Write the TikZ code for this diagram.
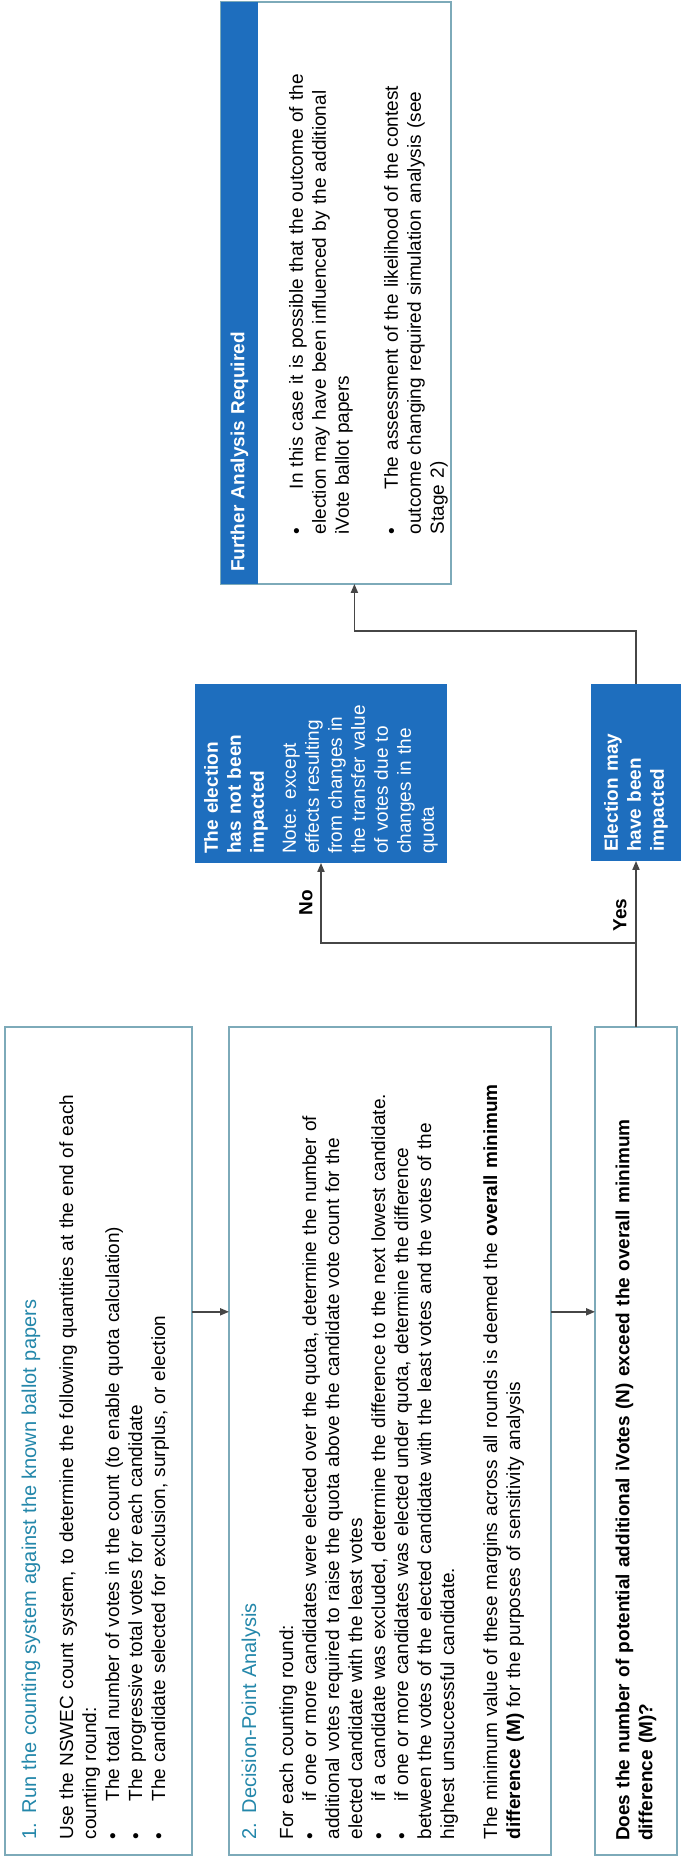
\documentclass[tikz,border=0pt]{standalone}
\usepackage{fontspec}
\setmainfont{Liberation Sans}
\usetikzlibrary{arrows.meta}
\usetikzlibrary{calc}
\definecolor{boxedge}{RGB}{125,170,185}
\definecolor{bandblue}{RGB}{30,110,190}
\definecolor{stagetitle}{RGB}{35,135,170}
\definecolor{flowgrey}{RGB}{70,70,70}
\setlength{\parindent}{0pt}
\newcommand{\blt}[2][19pt]{\par\hangindent=#1\hangafter=1\noindent\makebox[#1][l]{\textbullet}#2\par}
\tikzset{every picture/.style={line width=0.75pt}}
\tikzset{
  stagebox/.style={draw=boxedge,fill=white,inner sep=0pt,outer sep=0pt,anchor=north west},
  bluebox/.style={fill=bandblue,text=white,inner sep=0pt,outer sep=0pt,anchor=north west,align=left,font=\fontsize{9.5}{11.5}\selectfont},
  bodytext/.style={inner sep=0pt,anchor=north west,align=left,font=\fontsize{9.5}{11.5}\selectfont},
  flow/.style={draw=flowgrey,line width=0.7pt,-{Triangle[length=4.5pt,width=3.6pt]}}
}

\begin{document}
\begin{tikzpicture}[x=0.5pt,y=0.5pt]
\begin{scope}[rotate=90,transform shape]
\useasboundingbox (0,0) rectangle (1862,-680);

%Shape: Rectangle
\node [stagebox] [minimum width=414pt,minimum height=93.5pt] (runbox) at (7,-5) {};
%Shape: Rectangle
\node [stagebox] [minimum width=414pt,minimum height=161pt] (dpabox) at (7,-229) {};
%Shape: Rectangle
\node [stagebox] [minimum width=414pt,minimum height=41pt,text width=400pt,align=left,font=\bfseries\fontsize{9.5}{11.5}\selectfont] (qbox) at (7,-595) {Does the number of potential additional iVotes (N) exceed the overall minimum\\difference (M)?};
%Shape: Rectangle
\node [bluebox] [minimum width=89.5pt,minimum height=126pt,text width=80.5pt] (nobox) at (999,-195) {\textbf{The election\\has not been\\impacted}\par\vspace{4.5pt}Note: except\\effects resulting\\from changes in\\the transfer value\\of votes due to\\changes in the\\quota};
%Shape: Rectangle
\node [bluebox] [minimum width=88.5pt,minimum height=45pt,text width=79.5pt,font=\bfseries\fontsize{9.5}{11.5}\selectfont] (maybox) at (1001,-591) {Election may\\have been\\impacted};
%Shape: Rectangle
\node [stagebox] [minimum width=291pt,minimum height=115pt] (further) at (1278,-221) {};
\node [bluebox] [minimum width=291pt,minimum height=18.5pt,text width=279pt,font=\bfseries\fontsize{9.5}{11.5}\selectfont] (furtherhead) at (1278,-221) {Further Analysis Required};

% Text Node
\node [bodytext,text width=400pt] (runtext) at (22,-21) {{\color{stagetitle}\fontsize{10}{11.5}\selectfont 1. Run the counting system against the known ballot papers}\par\vspace{7pt}
Use the NSWEC count system, to determine the following quantities at the end of each\\counting round:
\blt{The total number of votes in the count (to enable quota calculation)}
\blt{The progressive total votes for each candidate}
\blt{The candidate selected for exclusion, surplus, or election}};
% Text Node
\node [bodytext,text width=400pt] (dpatext) at (22,-241) {{\color{stagetitle}\fontsize{10}{11.5}\selectfont 2. Decision-Point Analysis}\par\vspace{7pt}
For each counting round:
\blt{if one or more candidates were elected over the quota, determine the number of\\additional votes required to raise the quota above the candidate vote count for the\\elected candidate with the least votes}
\blt{if a candidate was excluded, determine the difference to the next lowest candidate.}
\blt{if one or more candidates was elected under quota, determine the difference\\between the votes of the elected candidate with the least votes and the votes of the\\highest unsuccessful candidate.}
\vspace{10pt}
The minimum value of these margins across all rounds is deemed the \textbf{overall minimum}\\\textbf{difference (M)} for the purposes of sensitivity analysis};
% Text Node
\node [bodytext,text width=260pt] (furthertext) at (1327,-279) {\blt[22.5pt]{In this case it is possible that the outcome of the\\election may have been influenced by the additional\\iVote ballot papers}
\vspace{13pt}
\blt[22.5pt]{The assessment of the likelihood of the contest\\outcome changing required simulation analysis (see\\Stage 2)}};
% Text Node
\node [bodytext,anchor=center,font=\bfseries\fontsize{9.5}{11.5}\selectfont] (nolabel) at (959,-306) {No};
% Text Node
\node [bodytext,anchor=center,font=\bfseries\fontsize{9.5}{11.5}\selectfont] (yeslabel) at (947,-620) {Yes};

%Straight Lines
\draw [flow] ($(runbox.south west)!0.656!(runbox.south east)$) -- ($(dpabox.north west)!0.656!(dpabox.north east)$);
\draw [flow] ($(dpabox.south west)!0.656!(dpabox.south east)$) -- ($(qbox.north west)!0.656!(qbox.north east)$);
\coordinate (fork) at ($(qbox.east)+(84,0)$);
\draw [flow] (qbox.east) -- (fork) -- (maybox.west);
\draw [flow] (fork) |- (nobox.west);
\coordinate (upturn) at ($(maybox.east)+(53,0)$);
\coordinate (furtherin) at ($(further.south west)!0.42!(further.north west)$);
\draw [flow] (maybox.east) -- (upturn) |- (furtherin);

\end{scope}
\end{tikzpicture}
\end{document}
